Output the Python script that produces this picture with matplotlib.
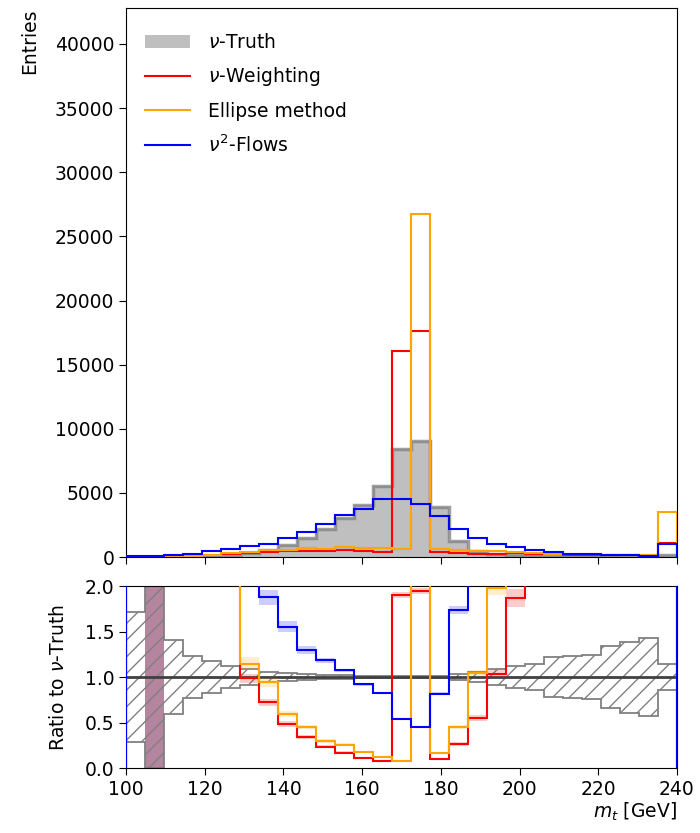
import numpy as np
import matplotlib
matplotlib.use("Agg")
import matplotlib.pyplot as plt
from matplotlib.patches import Patch
from matplotlib.lines import Line2D

# Binning in reconstructed top mass
edges = np.linspace(100, 240, 30)

truth = np.array([8, 0, 15, 35, 60, 110, 320, 560, 950, 1480, 2150, 3050, 4080, 5510,
                  8450, 9050, 3900, 1250, 450, 220, 150, 120, 90, 75, 60, 45, 35, 30, 180], float)
nu_weighting = np.array([20, 15, 40, 90, 150, 250, 315, 404, 460, 500, 505, 520, 465, 425,
                         16060, 17620, 375, 330, 247, 228, 280, 260, 220, 190, 170, 140, 120, 110, 1090], float)
ellipse = np.array([20, 20, 50, 110, 180, 300, 367, 527, 566, 665, 645, 785, 735, 690,
                    650, 26780, 630, 560, 470, 435, 380, 330, 270, 240, 210, 180, 160, 150, 3510], float)
nu2_flows = np.array([52, 78, 156, 260, 440, 650, 860, 1050, 1475, 1920, 2545, 3270, 3750, 4560,
                      4520, 4120, 3180, 2170, 1510, 1050, 780, 570, 370, 260, 210, 160, 130, 110, 990], float)

# Relative statistical uncertainty of the truth histogram
truth_rel_unc = np.array([0.71, 5.0, 0.41, 0.23, 0.18, 0.12, 0.09, 0.05, 0.04, 0.03, 0.025, 0.02,
                          0.015, 0.012, 0.01, 0.01, 0.015, 0.03, 0.06, 0.09, 0.125, 0.147, 0.22,
                          0.23, 0.24, 0.345, 0.39, 0.425, 0.14])

# Half-widths of the ratio uncertainty bands for each method
red_band = np.array([0, 0, 0, 0, 0, 0, 0.05, 0.04, 0.03, 0.02, 0.02, 0.015, 0.012, 0.01,
                     0.03, 0.03, 0.01, 0.02, 0.03, 0.04, 0.10, 0, 0, 0, 0, 0, 0, 0, 0])
orange_band = np.array([0, 0, 0, 0, 0, 0, 0.07, 0.05, 0.03, 0.02, 0.02, 0.015, 0.012, 0.01,
                        0.01, 0, 0.01, 0.02, 0.03, 0.08, 0, 0, 0, 0, 0, 0, 0, 0, 0])
blue_band = np.array([0, 0, 0, 0, 0, 0, 0, 0.08, 0.06, 0.04, 0.03, 0.02, 0.015, 0.012,
                      0.01, 0.01, 0.015, 0.04, 0, 0, 0, 0, 0, 0, 0, 0, 0, 0, 0])

labels = [r"$\nu$-Truth", r"$\nu$-Weighting", "Ellipse method", r"$\nu^2$-Flows"]
colors = ["red", "orange", "blue"]

plt.rcParams["font.family"] = ["DejaVu Sans"]
plt.rcParams["font.size"] = 13.5
plt.rcParams["mathtext.fontset"] = "dejavusans"

fig = plt.figure(figsize=(7.0, 8.33), dpi=100)
ax = fig.add_axes([0.18, 0.3313, 0.787, 0.659])
rax = fig.add_axes([0.18, 0.078, 0.787, 0.2185], sharex=ax)

# --- main panel ---
ax.stairs(truth, edges, fill=True, color="#bfbfbf", linewidth=0, zorder=1)
ax.stairs(truth, edges, color="#7f7f7f", linewidth=2.5, alpha=0.75, baseline=None, zorder=1.5)
for vals, c in zip([nu_weighting, ellipse, nu2_flows], colors):
    ax.stairs(vals, edges, color=c, linewidth=1.5, zorder=3)

ax.set_xlim(100, 240)
ax.set_ylim(0, 42800)
ax.set_ylabel("Entries", loc="top", labelpad=11)
ax.tick_params(labelbottom=False, direction="out", length=5)

handles = [Patch(facecolor="#bfbfbf", edgecolor="none")] + \
          [Line2D([], [], color=c, linewidth=1.5) for c in colors]
ax.legend(handles, labels, loc="upper left", bbox_to_anchor=(0.0, 0.989), frameon=False,
          fontsize=13.5, handlelength=2.4, handletextpad=0.95, borderaxespad=0.6,
          labelspacing=0.72)

# --- ratio panel ---
safe = truth > 0
def ratio(vals):
    r = np.full_like(vals, 10.0)
    r[safe] = vals[safe] / truth[safe]
    return r

rax.axvspan(edges[1], edges[2], color="#b5859f", linewidth=0, zorder=0.5)
lo = np.clip(1 - truth_rel_unc, 0, None)
hi = 1 + truth_rel_unc
rax.stairs(hi, edges, baseline=lo, fill=True, facecolor="none", edgecolor="#808080",
           hatch="//", linewidth=1.3, zorder=1)
rax.axhline(1.0, color="#404040", linewidth=2, zorder=2)

for vals, band, c in zip([nu_weighting, ellipse, nu2_flows],
                         [red_band, orange_band, blue_band], colors):
    r = ratio(vals)
    rax.stairs(r + band, edges, baseline=r - band, fill=True, color=c, alpha=0.2,
               linewidth=0, zorder=2.5)
    rax.stairs(r, edges, color=c, linewidth=1.5, zorder=3)

rax.set_ylim(0, 2.0)
rax.set_yticks([0.0, 0.5, 1.0, 1.5, 2.0])
rax.set_xticks(np.arange(100, 241, 20))
rax.set_ylabel(r"Ratio to $\nu$-Truth", labelpad=12)
rax.set_xlabel(r"$m_t$ [GeV]", loc="right", labelpad=1)
rax.tick_params(direction="out", length=5)

fig.savefig("out.png", dpi=100)
